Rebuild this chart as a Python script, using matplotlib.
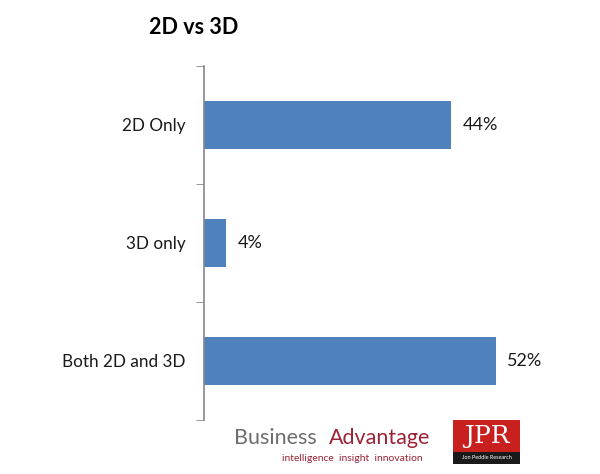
import matplotlib.pyplot as plt
from matplotlib.patches import Rectangle

# --------------------
# Data
# --------------------
categories = ["2D Only", "3D only", "Both 2D and 3D"]
shares = [44, 4, 52]
value_labels = ["44%", "4%", "52%"]

plt.rcParams["font.family"] = ["Lato", "DejaVu Sans"]

fig = plt.figure(figsize=(6, 4.74), dpi=100)
ax = fig.add_axes([0.34, 0.114, 0.5615, 0.747])

y = list(range(len(categories)))
ax.barh(y, shares, height=0.41, color="#4F81BD")

for yi, v, lab in zip(y, shares, value_labels):
    ax.text(v + 2.0, yi, lab, va="center", ha="left", fontsize=13, color="#1a1a1a")

ax.set_xlim(0, 60)
ax.set_ylim(2.5, -0.5)

# category labels at centres, boundary ticks as minor ticks
ax.set_yticks(y)
ax.set_yticklabels(categories, fontsize=12.3, color="#1a1a1a")
ax.tick_params(axis="y", which="major", length=0, pad=13)
ax.set_yticks([-0.5, 0.5, 1.5, 2.5], minor=True)
ax.tick_params(axis="y", which="minor", length=6, direction="out", color="#868686")
ax.set_xticks([])

for side in ["top", "right", "bottom"]:
    ax.spines[side].set_visible(False)
ax.spines["left"].set_color("#868686")
ax.spines["left"].set_linewidth(1.2)

# title
fig.text(0.248, 0.941, "2D vs 3D", fontsize=15.5, fontweight="bold", ha="left", va="center")

# --------------------
# Logos (as text)
# --------------------
fig.text(0.390, 0.075, "Business", fontsize=15.5, color="#6d6d6d", ha="left", va="center")
fig.text(0.548, 0.075, "Advantage", fontsize=15.5, color="#9b2335", ha="left", va="center")
fig.text(0.470, 0.033, "intelligence  insight  innovation", fontsize=7.5, color="#9b2335",
         ha="left", va="center")

fig.patches.append(Rectangle((0.755, 0.045), 0.112, 0.068, transform=fig.transFigure,
                             facecolor="#c8201e", edgecolor="none"))
fig.patches.append(Rectangle((0.755, 0.022), 0.112, 0.024, transform=fig.transFigure,
                             facecolor="#1a1a1a", edgecolor="none"))
fig.text(0.811, 0.079, "JPR", fontsize=18, color="white", family="DejaVu Serif",
         ha="center", va="center")
fig.text(0.811, 0.034, "Jon Peddie Research", fontsize=4, color="white",
         ha="center", va="center")

fig.savefig("out.png", dpi=100)
